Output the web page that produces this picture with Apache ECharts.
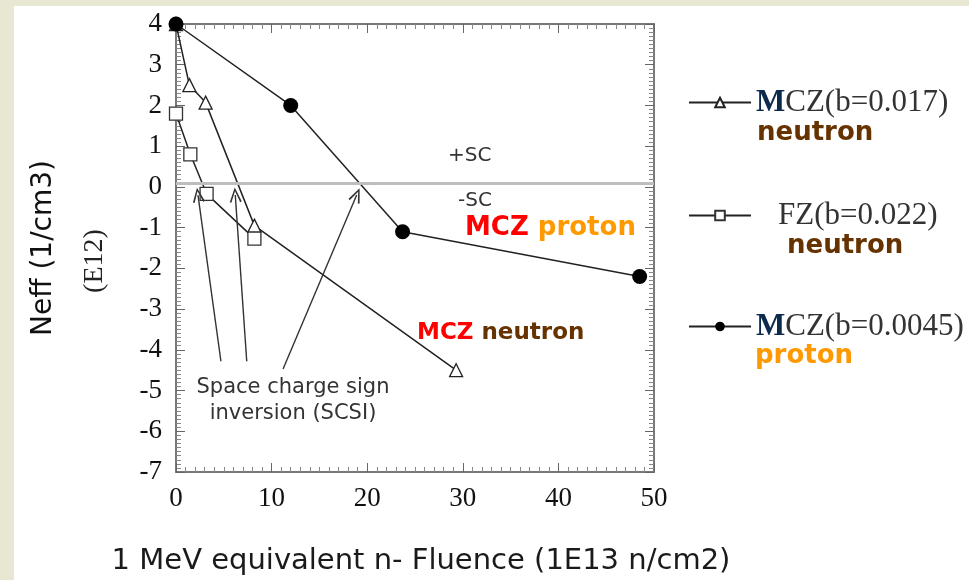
<!DOCTYPE html>
<html><head><meta charset="utf-8">
<script src="https://cdn.jsdelivr.net/npm/echarts@6/dist/echarts.min.js"></script>
<style>
html,body{margin:0;padding:0;width:969px;height:580px;background:#e7e7d3;overflow:hidden}
#bg{position:absolute;left:14px;top:6px;width:955px;height:574px;background:#fff}
#c{position:absolute;left:0;top:0;width:969px;height:580px}
</style></head><body><div id="bg"></div><div id="c"></div>
<script>
// ---- data ----
const seriesNames = ['MCZ(b=0.017) neutron', 'FZ(b=0.022) neutron', 'MCZ(b=0.0045) proton'];
const legendHead = ['M', '', 'M'];
const legendRest = ['CZ(b=0.017)', 'FZ(b=0.022)', 'CZ(b=0.0045)'];
const legendSecond = ['neutron', 'neutron', 'proton'];
const mczNeutron = [[0, 4], [1.4, 2.5], [3.1, 2.07], [8.2, -0.95], [29.3, -4.5]];
const fzNeutron = [[0, 1.8], [1.5, 0.8], [3.2, -0.17], [8.2, -1.27]];
const mczProton = [[0, 4], [12, 2.0], [23.7, -1.1], [48.5, -2.2]];
const xTickLabels = [0, 10, 20, 30, 40, 50];
const yTickLabels = [4, 3, 2, 1, 0, -1, -2, -3, -4, -5, -6, -7];
const zeroLineValue = 0.1;
const arrowStarts = [[4.7, -4.28], [7.4, -4.28], [11.2, -4.47]];
const arrowEnds = [[2.3, -0.2], [6.2, -0.2], [18.9, -0.2]];

// ---- chart ----
const chart = echarts.init(document.getElementById('c'), null, {renderer: 'canvas'});
const serif = '"Liberation Serif", "Times New Roman", serif';
const sans = '"DejaVu Sans", Verdana, sans-serif';
const xMin = xTickLabels[0], xMax = xTickLabels[xTickLabels.length - 1];
const yMax = yTickLabels[0], yMin = yTickLabels[yTickLabels.length - 1];
const chevron = 'path://M5,0 L10,12 L8.7,12.7 L5,3.2 L1.3,12.7 L0,12 Z';

function axisBase(pos, showLabel) {
  return {
    type: 'value', position: pos, splitLine: {show: false},
    axisLine: {show: true, onZero: false, lineStyle: {color: '#777', width: 2}},
    axisTick: {show: true, inside: true, length: 9, lineStyle: {color: '#666', width: 1}},
    minorTick: {show: true, splitNumber: 10, length: 5, lineStyle: {color: '#888', width: 1}},
    axisLabel: {show: showLabel, color: '#111', fontFamily: serif, fontSize: 27}
  };
}

const legends = seriesNames.map((n, i) => ({
  data: [n], left: 688, top: [87, 200, 311][i], orient: 'vertical', padding: 0,
  itemWidth: 62, itemHeight: 12, selectedMode: false,
  formatter: () => legendHead[i] ? '{m|' + legendHead[i] + '}{r|' + legendRest[i] + '}' : '{f|' + legendRest[i] + '}',
  textStyle: {
    rich: {
      m: {fontFamily: serif, fontSize: 31, fontWeight: 'bold', color: '#0b2a4d', lineHeight: 30},
      r: {fontFamily: serif, fontSize: 31, color: '#333', lineHeight: 30},
      f: {fontFamily: serif, fontSize: 31, color: '#333', lineHeight: 30, padding: [0, 0, 0, 22]}
    }
  }
}));

const option = {
  backgroundColor: 'transparent',
  animation: false,
  grid: {left: 176, right: 315, top: 24, bottom: 108, outerBoundsMode: 'none', containLabel: false},
  legend: legends,
  xAxis: [
    Object.assign(axisBase('bottom', true), {
      min: xMin, max: xMax, interval: 10,
      axisLabel: {show: true, color: '#111', fontFamily: serif, fontSize: 27, margin: 13},
      name: '1 MeV equivalent n- Fluence (1E13 n/cm2)', nameLocation: 'middle', nameGap: 75,
      nameTextStyle: {fontFamily: sans, fontSize: 29, color: '#1a1a1a', padding: [0, 0, 0, 12]}
    }),
    Object.assign(axisBase('top', false), {min: xMin, max: xMax, interval: 10})
  ],
  yAxis: [
    Object.assign(axisBase('left', true), {
      min: yMin, max: yMax, interval: 1,
      axisLabel: {show: true, color: '#111', fontFamily: serif, fontSize: 27, margin: 14},
      name: 'Neff (1/cm3)', nameLocation: 'middle', nameGap: 118, nameRotate: 90,
      nameTextStyle: {fontFamily: sans, fontSize: 28, color: '#111'}
    }),
    Object.assign(axisBase('right', false), {min: yMin, max: yMax, interval: 1})
  ],
  series: [
    {
      name: seriesNames[0], type: 'line', data: mczNeutron, z: 3,
      symbol: 'triangle', symbolSize: 13,
      itemStyle: {color: '#fff', borderColor: '#222', borderWidth: 1.3},
      lineStyle: {color: '#222', width: 1.5},
      markLine: {
        silent: true, symbol: ['none', chevron], symbolSize: [12, 15],
        label: {show: false},
        lineStyle: {color: '#333', width: 1.4, type: 'solid'},
        data: arrowStarts.map((s, k) => [{coord: s}, {coord: arrowEnds[k]}])
      }
    },
    {
      name: seriesNames[1], type: 'line', data: fzNeutron, z: 3,
      symbol: 'rect', symbolSize: 13,
      itemStyle: {color: '#fff', borderColor: '#333', borderWidth: 1.3},
      lineStyle: {color: '#222', width: 1.5},
      markLine: {
        silent: true, symbol: ['none', 'none'], label: {show: false},
        lineStyle: {color: '#bdbdbd', width: 3, type: 'solid'},
        data: [{yAxis: zeroLineValue}]
      }
    },
    {
      name: seriesNames[2], type: 'line', data: mczProton, z: 4,
      symbol: 'circle', symbolSize: 15,
      itemStyle: {color: '#000'},
      lineStyle: {color: '#222', width: 1.5}
    }
  ],
  graphic: [
    {type: 'text', left: 448, top: 146, style: {text: '+SC', font: '20px ' + sans, fill: '#333'}},
    {type: 'text', left: 458, top: 191, style: {text: '-SC', font: '20px ' + sans, fill: '#333'}},
    {type: 'text', left: 465, top: 215, style: {
      text: '{a|MCZ}{b|proton}',
      rich: {a: {fontFamily: sans, fontSize: 26, fontWeight: 'bold', fill: '#ff0000', padding: [0, 9, 0, 0]},
             b: {fontFamily: sans, fontSize: 26, fontWeight: 'bold', fill: '#ff9900'}}
    }},
    {type: 'text', left: 417, top: 322, style: {
      text: '{a|MCZ}{b|neutron}',
      rich: {a: {fontFamily: sans, fontSize: 23, fontWeight: 'bold', fill: '#ff0000', padding: [0, 8, 0, 0]},
             b: {fontFamily: sans, fontSize: 23, fontWeight: 'bold', fill: '#663300'}}
    }},
    {type: 'text', x: 293, y: 375, style: {
      text: 'Space charge sign\ninversion (SCSI)', font: '21px ' + sans, fill: '#333',
      align: 'center', lineHeight: 26, backgroundColor: '#fff'
    }},
    {type: 'text', x: 95, y: 261, rotation: Math.PI / 2, style: {
      text: '(E12)', font: '28px ' + serif, fill: '#222', align: 'center', verticalAlign: 'middle'
    }},
    {type: 'text', left: 757, top: 120, style: {text: legendSecond[0], font: 'bold 26px ' + sans, fill: '#663300'}},
    {type: 'text', left: 787, top: 233, style: {text: legendSecond[1], font: 'bold 26px ' + sans, fill: '#663300'}},
    {type: 'text', left: 755, top: 343, style: {text: legendSecond[2], font: 'bold 26px ' + sans, fill: '#ff9900'}}
  ]
};
chart.setOption(option);
</script></body></html>
